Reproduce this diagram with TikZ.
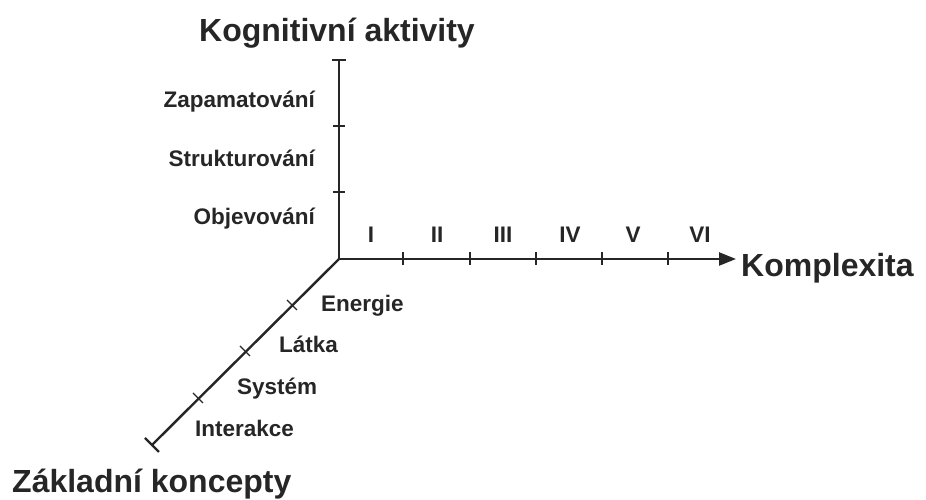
\documentclass[tikz,border=0pt]{standalone}
\usepackage{fontspec}
\setmainfont{Liberation Sans}
\usetikzlibrary{arrows.meta, positioning, calc}

\begin{document}
\begin{tikzpicture}[x=1pt, y=1pt,
    axis/.style={line width=2.4pt, black!85},
    tick/.style={line width=1.4pt, black!85},
    lbl/.style={font=\fontsize{22.5}{26}\selectfont\bfseries, text=black!85, inner sep=0pt},
    ttl/.style={font=\fontsize{32}{36}\selectfont\bfseries, text=black!85, inner sep=0pt}]
  \useasboundingbox (0,0) rectangle (926,500);

  % axes
  \coordinate (O) at (339,241);
  \coordinate (ktop) at (339,440);
  \coordinate (kend) at (736,241);
  \coordinate (zend) at (152,55);
  \draw[axis] (O) -- (ktop);
  \draw[axis, -{Triangle[length=17pt, width=13pt]}] (O) -- (kend);
  \draw[axis] (O) -- (zend);

  % ticks
  \draw[tick] ($(ktop)+(-7,0)$) -- ($(ktop)+(7,0)$);
  \foreach \y in {374,308}
    \draw[tick] (333,\y) -- (345,\y);
  \foreach \x in {403,470,536,602,668}
    \draw[tick] (\x,235) -- (\x,248);
  \foreach \x/\y in {292/195, 245/149, 198/102}
    \draw[tick] (\x-5,\y+5) -- (\x+5,\y-5);
  \draw[axis] ($(zend)+(-7,7)$) -- ($(zend)+(7,-7)$);

  % labels
  \node[lbl, anchor=base east] (a1) at (315,392) {Zapamatování};
  \node[lbl, anchor=base east] (a2) at (315,333) {Strukturování};
  \node[lbl, anchor=base east] (a3) at (315,275) {Objevování};

  \node[lbl, anchor=base] (c1) at (371,257) {I};
  \node[lbl, anchor=base] (c2) at (437,257) {II};
  \node[lbl, anchor=base] (c3) at (503,257) {III};
  \node[lbl, anchor=base] (c4) at (570,257) {IV};
  \node[lbl, anchor=base] (c5) at (633,257) {V};
  \node[lbl, anchor=base] (c6) at (700,257) {VI};

  \node[lbl, anchor=base west] (k1) at (321,188) {Energie};
  \node[lbl, anchor=base west] (k2) at (279,147) {Látka};
  \node[lbl, anchor=base west] (k3) at (237,105) {Systém};
  \node[lbl, anchor=base west] (k4) at (195,63) {Interakce};

  \node[ttl, anchor=base] (tk) at (337,458) {Kognitivní aktivity};
  \node[ttl, anchor=base west] (tx) at (741,223) {Komplexita};
  \node[ttl, anchor=base west] (tz) at (12,7) {Základní koncepty};
\end{tikzpicture}
\end{document}
